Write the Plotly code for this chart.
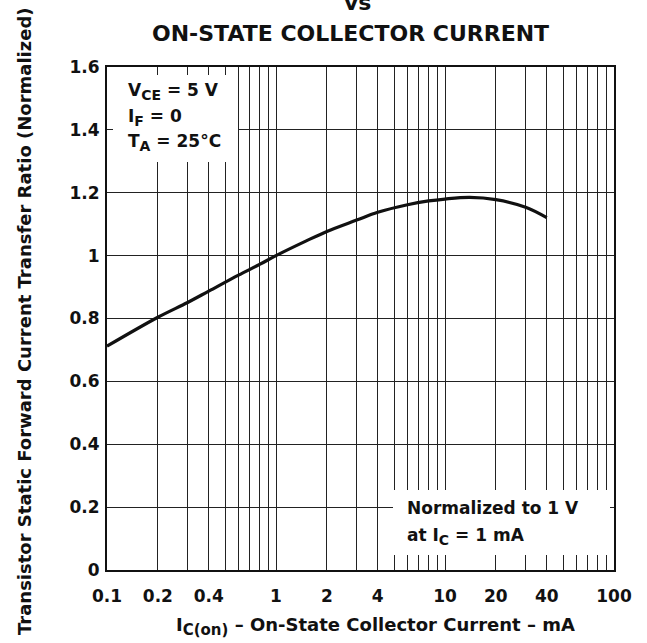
import plotly.graph_objects as go

# ---- data ----
ic_ma = [0.1, 0.2, 0.3, 0.4, 0.6, 0.8, 1.0, 1.5, 2.0, 3.0, 4.0, 6.0, 8.0, 10.0, 14.0, 20.0, 30.0, 40.0]
hfe_norm = [0.712, 0.804, 0.851, 0.887, 0.938, 0.972, 1.000, 1.046, 1.077, 1.113, 1.138, 1.162,
            1.174, 1.180, 1.185, 1.178, 1.154, 1.121]

x_tickvals = [0.1, 0.2, 0.4, 1, 2, 4, 10, 20, 40, 100]
x_ticktext = ["0.1", "0.2", "0.4", "1", "2", "4", "10", "20", "40", "100"]
x_minor = [0.3, 0.5, 0.6, 0.7, 0.8, 0.9, 3, 5, 6, 7, 8, 9, 30, 50, 60, 70, 80, 90]
y_tickvals = [0, 0.2, 0.4, 0.6, 0.8, 1.0, 1.2, 1.4, 1.6]
y_ticktext = ["0", "0.2", "0.4", "0.6", "0.8", "1", "1.2", "1.4", "1.6"]

FONT = "DejaVu Sans"
W, H = 647, 643
L, R, T, B = 107, 614, 67, 570


def px(x):
    return (x - L) / (R - L)


def py(y):
    return (B - y) / (B - T)


fig = go.Figure()
fig.add_trace(go.Scatter(x=ic_ma, y=hfe_norm, mode="lines",
                         line=dict(color="#111111", width=3.2, shape="spline", smoothing=1.0),
                         hoverinfo="skip", showlegend=False))

fig.update_layout(
    width=W, height=H,
    margin=dict(l=L, r=W - R, t=T, b=H - B, autoexpand=False),
    paper_bgcolor="white", plot_bgcolor="white",
    font=dict(family=FONT, size=17, color="#111111"),
    showlegend=False,
)

fig.update_xaxes(
    type="log", range=[-1, 2],
    tickmode="array", tickvals=x_tickvals, ticktext=x_ticktext,
    tickfont=dict(family=FONT, size=17, color="#111111", weight="bold"),
    ticks="outside", ticklen=10, tickcolor="rgba(0,0,0,0)",
    showgrid=True, gridcolor="#222222", gridwidth=1,
    minor=dict(tickmode="array", tickvals=x_minor, showgrid=True, gridcolor="#222222", gridwidth=1, ticks=""),
    showline=True, linecolor="#111111", linewidth=2, mirror=True,
    zeroline=False,
)
fig.update_yaxes(
    range=[0, 1.6],
    tickmode="array", tickvals=y_tickvals, ticktext=y_ticktext,
    tickfont=dict(family=FONT, size=17, color="#111111", weight="bold"),
    ticks="outside", ticklen=2, tickcolor="rgba(0,0,0,0)",
    showgrid=True, gridcolor="#222222", gridwidth=1,
    showline=True, linecolor="#111111", linewidth=2, mirror=True,
    zeroline=False,
)

# white boxes hiding the grid behind the notes
fig.add_shape(type="rect", xref="paper", yref="paper",
              x0=px(113), x1=px(238), y0=py(162), y1=py(75),
              fillcolor="white", line=dict(width=0), layer="above")
fig.add_shape(type="rect", xref="paper", yref="paper",
              x0=px(393), x1=px(610), y0=py(555), y1=py(490),
              fillcolor="white", line=dict(width=0), layer="above")

bold = dict(family=FONT, size=17, color="#111111", weight="bold")
bold18 = dict(family=FONT, size=18, color="#111111", weight="bold")


def sub(s, size=14):
    return "<sub><span style='font-size:%dpx'>%s</span></sub>" % (size, s)


notes = [
    ("V" + sub("CE") + " = 5 V", 126, 92),
    ("I" + sub("F") + " = 0", 126, 118),
    ("T" + sub("A") + " = 25°C", 126, 142),
    ("Normalized to 1 V", 405, 508),
    ("at I" + sub("C") + " = 1 mA", 405, 536),
]
for txt, xx, yy in notes:
    fig.add_annotation(text=txt, xref="paper", yref="paper", x=px(xx), y=py(yy),
                       xanchor="left", yanchor="middle", showarrow=False, font=bold)

# title
tfont = dict(family=FONT, size=22, color="#111111", weight="bold")
fig.add_annotation(text="vs", xref="paper", yref="paper", x=px(357), y=py(3),
                   xanchor="center", yanchor="middle", showarrow=False, font=tfont)
fig.add_annotation(text="ON-STATE COLLECTOR CURRENT", xref="paper", yref="paper", x=px(350), y=py(33),
                   xanchor="center", yanchor="middle", showarrow=False, font=tfont)

# axis titles
fig.add_annotation(text="I" + sub("C(on)", 15) + " – On-State Collector Current – mA", xref="paper", yref="paper",
                   x=px(375), y=py(626), xanchor="center", yanchor="middle", showarrow=False, font=bold18)
fig.add_annotation(text="Transistor Static Forward Current Transfer Ratio (Normalized)",
                   xref="paper", yref="paper", x=px(24), y=py(321), textangle=-90,
                   xanchor="center", yanchor="middle", showarrow=False, font=bold18)

fig.write_html("out.html", config={"displayModeBar": False},
               post_script="document.body.style.margin='0';")
